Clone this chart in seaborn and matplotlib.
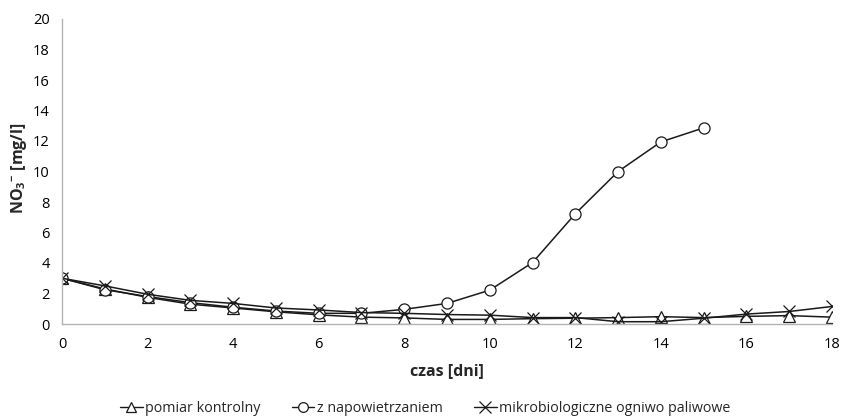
import matplotlib
matplotlib.use("Agg")
import matplotlib.pyplot as plt
import seaborn as sns
import pandas as pd
from matplotlib.lines import Line2D

days_long = list(range(0, 19))
days_air = list(range(0, 16))

kontrolny = [3.0, 2.3, 1.75, 1.3, 1.05, 0.8, 0.6, 0.45, 0.4, 0.3, 0.3, 0.35,
             0.38, 0.42, 0.48, 0.42, 0.5, 0.55, 0.45]
napowietrzanie = [3.0, 2.25, 1.8, 1.4, 1.1, 0.85, 0.7, 0.7, 0.96, 1.35, 2.22,
                  4.03, 7.23, 10.0, 11.94, 12.86]
ogniwo = [3.0, 2.5, 1.95, 1.55, 1.35, 1.05, 0.92, 0.75, 0.7, 0.62, 0.58, 0.42,
          0.42, 0.15, 0.15, 0.38, 0.65, 0.82, 1.15]

labels = ["pomiar kontrolny", "z napowietrzaniem", "mikrobiologiczne ogniwo paliwowe"]
markers = ["^", "o", "x"]
msizes = [8, 8, 9]
x_ticks = list(range(0, 19, 2))
y_ticks = list(range(0, 21, 2))

sns.set_style("white")
plt.rcParams['font.family'] = ['Open Sans', 'DejaVu Sans']
plt.rcParams['mathtext.fontset'] = 'custom'
plt.rcParams['mathtext.rm'] = 'Open Sans'
plt.rcParams['mathtext.bf'] = 'Open Sans:bold'

df = pd.concat([
    pd.DataFrame({"dzien": days_long, "NO3": kontrolny, "seria": labels[0]}),
    pd.DataFrame({"dzien": days_air, "NO3": napowietrzanie, "seria": labels[1]}),
    pd.DataFrame({"dzien": days_long, "NO3": ogniwo, "seria": labels[2]}),
])

fig = plt.figure(figsize=(8.46, 4.16), dpi=100)
ax = fig.add_axes([62/846, 1 - 324/416, (832-62)/846, (324-19)/416])

handles = []
for lab, mk, ms in zip(labels, markers, msizes):
    sub = df[df["seria"] == lab]
    sns.lineplot(data=sub, x="dzien", y="NO3", ax=ax, color="#1a1a1a",
                 linewidth=1.1, legend=False)
    line = ax.lines[-1]
    line.set_marker(mk)
    line.set_markersize(ms)
    line.set_markerfacecolor("white")
    line.set_markeredgecolor("#1a1a1a")
    line.set_markeredgewidth(0.9)
    handles.append(Line2D([], [], color="#1a1a1a", lw=1.0, marker=mk,
                          markersize=ms - 1, mfc="white", mec="#1a1a1a", mew=0.9))

ax.set_xlim(0, 18)
ax.set_ylim(0, 20)
ax.set_xticks(x_ticks)
ax.set_yticks(y_ticks)
for s in ["top", "right"]:
    ax.spines[s].set_visible(False)
for s in ["left", "bottom"]:
    ax.spines[s].set_color("#b3b3b3")
    ax.spines[s].set_linewidth(1.0)
ax.tick_params(axis="both", direction="out", length=5, width=1.0, color="#b3b3b3",
               labelsize=10.5, labelcolor="black", pad=4)
ax.set_xlabel("czas [dni]", fontsize=11.5, fontweight="bold", labelpad=8)
ax.set_ylabel(r"NO$_{\mathbf{3}}$$^{\mathbf{-}}$ [mg/l]", fontsize=11.5,
              fontweight="bold")
ax.yaxis.set_label_coords((29 - 62) / 770, 0.51)

fig.legend(handles, labels, loc="center", bbox_to_anchor=(425/846, 1 - 409/416),
           ncol=3, frameon=False, fontsize=10.3, handlelength=1.6, handletextpad=0.15,
           columnspacing=2.2)

fig.savefig("out.png", dpi=100)
